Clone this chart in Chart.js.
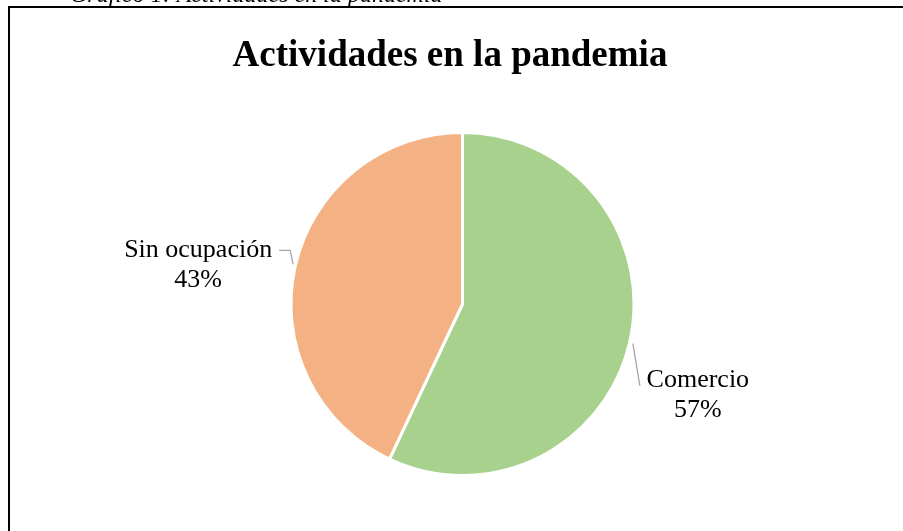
<!DOCTYPE html>
<html>
<head>
<meta charset="utf-8">
<script src="https://cdn.jsdelivr.net/npm/chart.js@4/dist/chart.umd.min.js"></script>
<style>
  html, body { margin: 0; padding: 0; background: #fff; }
  #contenedor { position: relative; width: 903px; height: 531px; }
</style>
</head>
<body>
<div id="contenedor"><canvas id="grafica"></canvas></div>
<script>
// datos del grafico
const etiquetas = ["Comercio", "Sin ocupación"];
const valores = [57, 43];
const colores = ["#A9D18E", "#F4B183"];
const titulo = "Actividades en la pandemia";
const leyendaSuperior = "Gráfico 1: Actividades en la pandemia";

const fuente = "'Liberation Serif', 'Times New Roman', serif";

// dibuja el marco, el titulo y las etiquetas con lineas guia
const pluginExtras = {
  id: "extras",
  beforeDraw(chart) {
    const ctx = chart.ctx;
    ctx.save();
    ctx.fillStyle = "#fff";
    ctx.fillRect(0, 0, chart.width, chart.height);
    // texto del pie de figura cortado arriba
    ctx.fillStyle = "#000";
    ctx.font = "italic 24px " + fuente;
    ctx.textAlign = "left";
    ctx.textBaseline = "alphabetic";
    ctx.fillText(leyendaSuperior, 70, 2);
    // marco
    ctx.strokeStyle = "#000";
    ctx.lineWidth = 2;
    ctx.strokeRect(9, 7, chart.width + 10, chart.height + 10);
    // titulo
    ctx.font = "bold 37px " + fuente;
    ctx.textAlign = "center";
    ctx.fillText(titulo, 450, 66);
    ctx.restore();
  },
  afterDraw(chart) {
    const ctx = chart.ctx;
    const meta = chart.getDatasetMeta(0);
    const total = valores.reduce((a, b) => a + b, 0);
    ctx.save();
    meta.data.forEach((arco, i) => {
      const medio = (arco.startAngle + arco.endAngle) / 2;
      const dx = Math.cos(medio), dy = Math.sin(medio);
      const px = arco.x + dx * (arco.outerRadius + 1);
      const py = arco.y + dy * (arco.outerRadius + 1);
      const pct = Math.round(valores[i] / total * 100) + "%";
      ctx.strokeStyle = "#A6A6A6";
      ctx.lineWidth = 1.3;
      ctx.beginPath();
      let tx, ty;
      if (dx < 0) {
        ctx.moveTo(px - 1, py - 2);
        ctx.lineTo(px - 4, py - 16);
        ctx.lineTo(px - 15, py - 16);
        tx = px - 96; ty = py - 16;
      } else {
        ctx.moveTo(px + 2, py + 2);
        ctx.lineTo(px + 9, py + 44);
        tx = px + 67; ty = py + 39;
      }
      ctx.stroke();
      ctx.fillStyle = "#000";
      ctx.font = "26px " + fuente;
      ctx.textAlign = "center";
      ctx.textBaseline = "middle";
      ctx.fillText(etiquetas[i], tx, ty);
      ctx.fillText(pct, tx, ty + 30);
    });
    ctx.restore();
  }
};

new Chart(document.querySelector("#grafica"), {
  type: "pie",
  data: {
    labels: etiquetas,
    datasets: [{
      data: valores,
      backgroundColor: colores,
      borderColor: "#fff",
      borderWidth: 3
    }]
  },
  options: {
    responsive: true,
    maintainAspectRatio: false,
    animation: false,
    layout: { padding: { top: 131, bottom: 54, left: 289, right: 267 } },
    plugins: {
      legend: { display: false },
      title: { display: false },
      tooltip: { enabled: false }
    }
  },
  plugins: [pluginExtras]
});
</script>
</body>
</html>
